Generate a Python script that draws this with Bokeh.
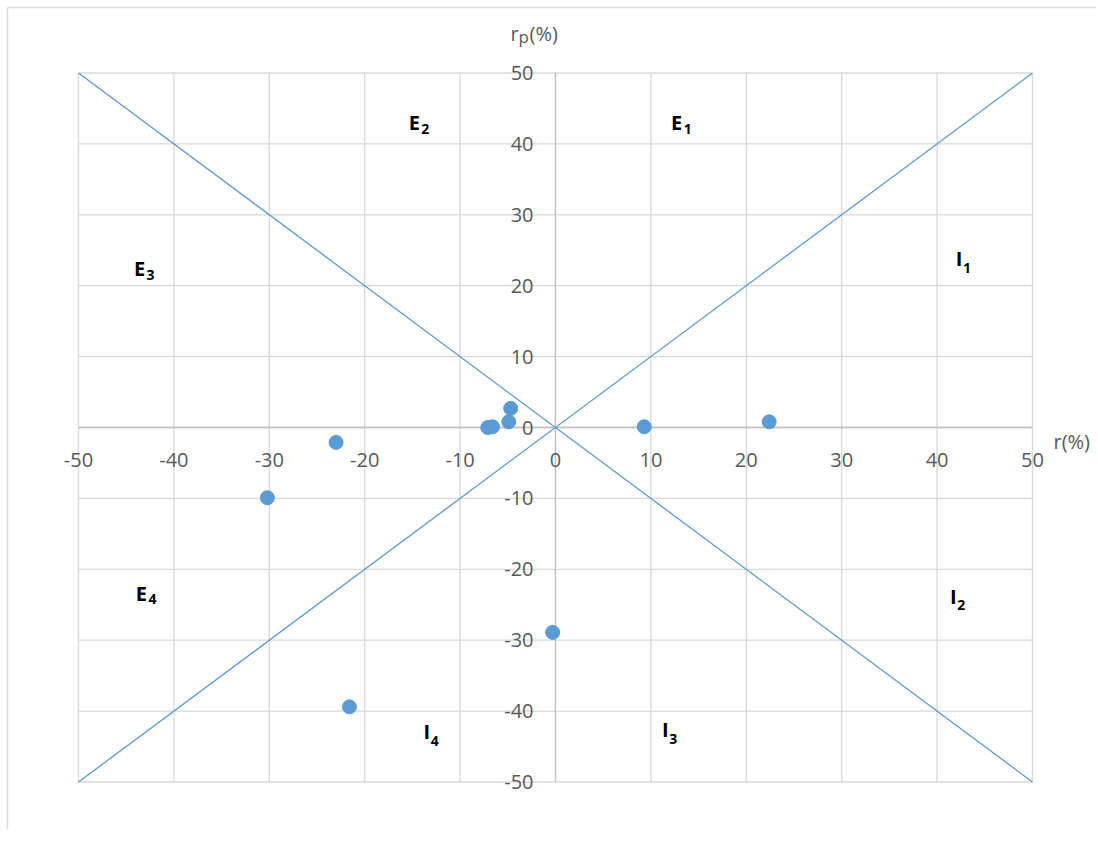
from bokeh.plotting import figure
from bokeh.models import Label, Range1d
from bokeh.embed import file_html
from bokeh.resources import INLINE

# ---- data ----
r_vals = [-30.2, -23.0, -21.6, -7.1, -6.6, -4.9, -4.7, 9.3, 22.4, -0.3]
rp_vals = [-9.9, -2.1, -39.4, 0.0, 0.1, 0.8, 2.7, 0.1, 0.8, -28.9]

x_ticks = [-50, -40, -30, -20, -10, 0, 10, 20, 30, 40, 50]
y_ticks = [-50, -40, -30, -20, -10, 0, 10, 20, 30, 40, 50]
x_tick_labels = ["-50", "-40", "-30", "-20", "-10", "0", "10", "20", "30", "40", "50"]
y_tick_labels = ["-50", "-40", "-30", "-20", "-10", "0", "10", "20", "30", "40", "50"]

diag_x = [-50, 50]
diag_up = [-50, 50]
diag_down = [50, -50]

region_letter = ["E", "E", "E", "E", "I", "I", "I", "I"]
region_sub = ["1", "2", "3", "4", "1", "2", "3", "4"]
region_x = [12.7, -14.8, -43.6, -43.4, 42.3, 41.7, 11.5, -13.5]
region_y = [43.0, 43.0, 22.4, -23.4, 23.8, -23.8, -42.6, -42.9]

BLUE = "#5b9bd5"
GRID = "#d9d9d9"
AXIS = "#bfbfbf"
TXT = "#595959"
FONT = "Open Sans"

# ---- layout: frame spans the whole canvas; axis +-50 sits inside ----
W, H = 1096, 829
OX, OY = 555, 427          # pixel of origin
SX, SY = 9.54, 7.09        # pixels per unit

x0, x1 = (0 - OX) / SX, (W - OX) / SX
y1, y0 = OY / SY, (OY - H) / SY

p = figure(frame_width=W, frame_height=H,
           x_range=Range1d(x0, x1), y_range=Range1d(y0, y1),
           output_backend="svg", toolbar_location=None,
           min_border=0, min_border_left=0, min_border_right=0,
           min_border_top=0, min_border_bottom=0,
           background_fill_color="white", border_fill_color="white")
p.outline_line_color = None
p.grid.visible = False
p.axis.visible = False

lo, hi = x_ticks[0], x_ticks[-1]
blo, bhi = y_ticks[0], y_ticks[-1]

# chart-area border (light grey, top and left)
bx = (7 - OX) / SX
by = (OY - 7) / SY
p.segment(x0=[bx, bx], y0=[by, by], x1=[bx, x1], y1=[y0, by],
          line_color="#d9d9d9", line_width=1.5)

# gridlines
p.segment(x0=x_ticks, y0=[blo] * len(x_ticks), x1=x_ticks, y1=[bhi] * len(x_ticks),
          line_color=GRID, line_width=1.3)
p.segment(x0=[lo] * len(y_ticks), y0=y_ticks, x1=[hi] * len(y_ticks), y1=y_ticks,
          line_color=GRID, line_width=1.3)

# axes through origin
p.segment(x0=[lo, 0], y0=[0, blo], x1=[hi, 0], y1=[0, bhi],
          line_color=AXIS, line_width=1.3)

# diagonals
p.line(diag_x, diag_up, line_color=BLUE, line_width=1.3)
p.line(diag_x, diag_down, line_color=BLUE, line_width=1.3)

# points
p.scatter(r_vals, rp_vals, size=14, fill_color=BLUE, line_color=BLUE)

# tick labels
for v, t in zip(x_ticks, x_tick_labels):
    p.add_layout(Label(x=v, y=0, y_offset=-32, text=t,
                       text_align="center", text_baseline="middle",
                       text_font=FONT, text_font_size="20px", text_color=TXT))
for v, t in zip(y_ticks, y_tick_labels):
    p.add_layout(Label(x=0, y=v, x_offset=-22, text=t,
                       text_align="right", text_baseline="middle",
                       text_font=FONT, text_font_size="20px", text_color=TXT))

# axis titles
p.add_layout(Label(x=hi, y=0, x_offset=21, y_offset=-14, text="r(%)",
                   text_align="left", text_baseline="middle",
                   text_font=FONT, text_font_size="20px", text_color=TXT))
p.add_layout(Label(x=0, y=bhi, x_offset=-45, y_offset=40, text="r",
                   text_align="left", text_baseline="middle",
                   text_font=FONT, text_font_size="20px", text_color=TXT))
p.add_layout(Label(x=0, y=bhi, x_offset=-37, y_offset=37, text="p",
                   text_align="left", text_baseline="middle",
                   text_font=FONT, text_font_size="17px", text_color=TXT))
p.add_layout(Label(x=0, y=bhi, x_offset=-26, y_offset=40, text="(%)",
                   text_align="left", text_baseline="middle",
                   text_font=FONT, text_font_size="20px", text_color=TXT))

# region labels
for i in range(len(region_letter)):
    dx = 7 if region_letter[i] == "E" else 4
    dy = -6 if region_letter[i] == "E" else -9
    p.add_layout(Label(x=region_x[i], y=region_y[i], text=region_letter[i],
                       text_align="center", text_baseline="middle",
                       text_font=FONT, text_font_style="bold",
                       text_font_size="20px", text_color="black"))
    p.add_layout(Label(x=region_x[i], y=region_y[i], x_offset=dx, y_offset=dy,
                       text=region_sub[i],
                       text_align="left", text_baseline="middle",
                       text_font=FONT, text_font_style="bold",
                       text_font_size="14px", text_color="black"))

open("out.html", "w").write(file_html(p, INLINE))
